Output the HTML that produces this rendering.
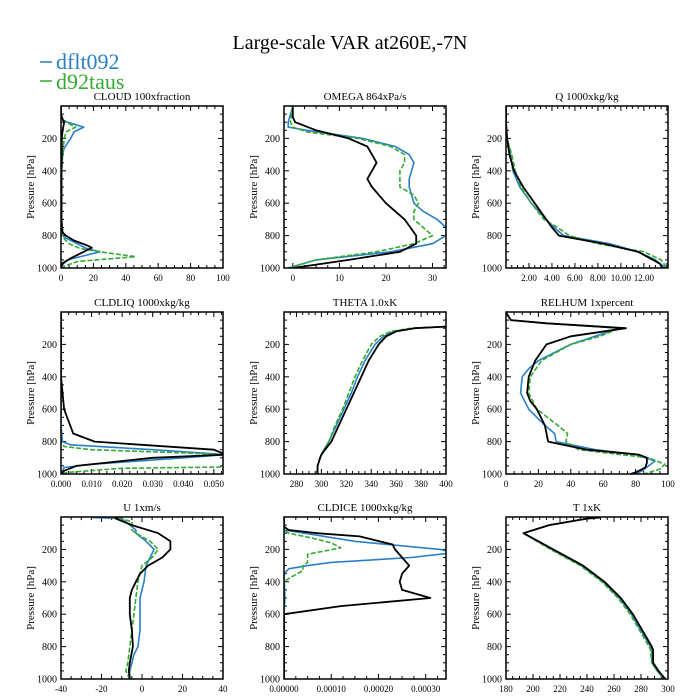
<!DOCTYPE html>
<html><head><meta charset="utf-8">
<style>
html,body{margin:0;padding:0;background:#fff;}
svg{display:block;font-family:"Liberation Serif",serif;}
</style></head>
<body>
<svg id="chart" width="700" height="700" viewBox="0 0 700 700">
<text x="350" y="49" text-anchor="middle" font-size="20">Large-scale VAR at260E,-7N</text>
<g>
<line x1="40" y1="62" x2="52" y2="62" stroke="#2a7fc8" stroke-width="1.5"/>
<text x="56" y="69" font-size="22" fill="#2a7fc8">dflt092</text>
<line x1="40" y1="81" x2="52" y2="81" stroke="#33aa33" stroke-width="1.5"/>
<text x="56" y="89" font-size="22" fill="#33aa33">d92taus</text>
</g>
</svg>
<script>
// ---- data arrays ----
const panelTitles = ["CLOUD  100xfraction","OMEGA  864xPa/s","Q  1000xkg/kg","CLDLIQ  1000xkg/kg","THETA  1.0xK","RELHUM  1xpercent","U  1xm/s","CLDICE  1000xkg/kg","T  1xK"];
const xMins = [0,-1.9,0,0,270,0,-40,0,180];
const xMaxs = [100,32.9,14.1,0.053,400,100,40,0.000343,300];
const xTicks = [[0,20,40,60,80,100],[0,10,20,30],[2,4,6,8,10,12],[0,0.01,0.02,0.03,0.04,0.05],[280,300,320,340,360,380,400],[0,20,40,60,80,100],[-40,-20,0,20,40],[0,0.0001,0.0002,0.0003],[180,200,220,240,260,280,300]];
const xTickLabels = [["0","20","40","60","80","100"],["0","10","20","30"],["2.00","4.00","6.00","8.00","10.00","12.00"],["0.000","0.010","0.020","0.030","0.040","0.050"],["280","300","320","340","360","380","400"],["0","20","40","60","80","100"],["-40","-20","0","20","40"],["0.00000","0.00010","0.00020","0.00030"],["180","200","220","240","260","280","300"]];
const yTicks = [200,400,600,800,1000];

// CLOUD
const cloudBlackP=[3,50,80,100,150,200,300,400,700,780,800,830,860,875,900,940,970,1000];
const cloudBlackX=[0,0,1,2,1,0.5,0.5,0.3,0.3,1,3,8,16,19,14,6,1,0];
const cloudBlueP=[3,80,100,130,160,200,260,300,400,780,810,840,880,900,950,980,1000];
const cloudBlueX=[0,0,4,14,8,6,2,1,0.3,0.3,2,8,16,24,4,1,0];
const cloudGreenP=[3,80,100,130,160,200,300,400,780,820,850,880,900,930,960,990,1000];
const cloudGreenX=[0,0,3,9,3,2,1,0.3,0.3,2,5,12,24,46,10,2,0];
// OMEGA
const omegaBlackP=[3,70,100,150,200,250,300,350,400,450,500,600,700,800,850,900,950,1000];
const omegaBlackX=[0,0,0.5,5,12,16,17,18,17,16,17,20,24,26.5,26.5,23,12,0];
const omegaBlueP=[3,100,130,150,200,250,300,350,400,450,500,600,650,700,750,800,850,900,950,1000];
const omegaBlueX=[0,-1,-1,3,15,22,25,26,25.5,25,25,26,28,31,32.9,32.9,30,21,5,-1];
const omegaGreenP=[3,100,130,160,200,250,300,350,400,450,500,550,600,650,700,750,800,850,900,950,1000];
const omegaGreenX=[0,-0.5,0,3,14,21,24,24,23,23,23,26,27,26,26,28,30,26,18,5,-1];
// Q
const qBlackP=[3,100,200,300,400,500,600,700,750,800,850,900,950,975,1000];
const qBlackX=[0,0,0.1,0.3,0.7,1.5,2.5,3.5,4,4.6,8.5,11.5,12.8,13.4,13.6];
const qBlueP=[3,100,200,300,400,500,600,700,750,800,850,900,950,1000];
const qBlueX=[0,0,0.1,0.4,0.6,1.2,2.2,3.5,4.2,5,9,11.5,13,13.9];
const qGreenP=[3,100,200,300,400,500,600,700,750,800,850,900,950,1000];
const qGreenX=[0,0,0.1,0.5,0.8,1.3,2.2,3.3,4.5,5.5,8,12,13.5,14];
// CLDLIQ
const liqBlackP=[3,400,600,650,700,750,800,850,880,900,950,980,1000];
const liqBlackX=[0,0,0.001,0.002,0.003,0.004,0.011,0.05,0.054,0.03,0.005,0.001,0];
const liqBlueP=[3,700,800,820,850,880,900,940,960,1000];
const liqBlueX=[0,0,0.0005,0.003,0.03,0.054,0.04,0.01,0.001,0];
const liqGreenP=[3,800,830,850,870,885,900,930,955,965,990,1000];
const liqGreenX=[0,0,0.001,0.01,0.04,0.06,0.06,0.06,0.06,0.02,0.002,0];
// THETA
const thBlackP=[90,100,120,150,200,300,400,500,600,700,800,850,880,900,950,1000];
const thBlackX=[400,375,360,352,346,338,332,326,320,314,308,303,300,299,297,297];
const thBlueP=[90,100,120,150,200,300,400,500,600,700,800,850,880,900,950,1000];
const thBlueX=[400,375,358,350,343,335,329,324,318,312,306,302,300,299,297,297];
const thGreenP=[90,100,120,150,200,300,400,500,600,700,800,850,880,900,950,1000];
const thGreenX=[400,372,356,347,340,333,327,322,317,311,306,302,300,299,297,296];
// RELHUM
const rhBlackP=[3,50,70,100,150,200,300,400,500,550,600,700,800,850,880,900,930,960,990,1000];
const rhBlackX=[0,3,25,74,40,25,18,14,13,15,19,24,26,50,82,87,87,86,80,77];
const rhBlueP=[3,50,70,100,150,200,250,300,350,400,500,600,700,750,800,850,880,920,950,980,1000];
const rhBlueX=[0,3,25,70,55,40,30,20,14,10,9,14,24,30,31,55,80,92,88,84,80];
const rhGreenP=[3,50,70,100,150,200,300,400,500,600,700,750,800,850,900,940,970,1000];
const rhGreenX=[0,3,25,70,58,40,22,15,14,19,32,38,37,45,88,98,95,85];
// U
const uBlackP=[3,10,50,100,150,200,250,300,350,400,450,500,600,700,800,900,950,1000];
const uBlackX=[-12,-13,-5,8,14,14,10,3,-1,-3,-5,-6,-6,-5,-4.5,-6,-6.5,-6];
const uBlueP=[3,10,80,100,150,200,250,300,400,500,600,700,800,850,900,950,1000];
const uBlueX=[-25,-10,-3,-3,2,6,4,2,1,-1,-1,-1,-2,-4,-5,-6,-6];
const uGreenP=[3,10,30,80,100,150,200,250,300,400,500,600,700,800,900,950,1000];
const uGreenX=[-15,-10,-5,-5,-3,4,8,5,0,-2,-3,-4,-5,-6,-7,-8,-6];
// CLDICE
const iceBlackP=[3,60,80,100,120,170,200,250,300,350,400,450,500,550,600,1000];
const iceBlackX=[0,0,0.00001,0.00007,0.00016,0.00023,0.000235,0.00025,0.000265,0.00025,0.000245,0.00025,0.00031,0.00012,0,0];
const iceBlueP=[3,80,150,200,220,250,280,300,320,350,500,600,1000];
const iceBlueX=[0,0,0.00015,0.00033,0.00036,0.00027,0.0001,0.00005,0.00001,0,0.000002,0,0];
const iceGreenP=[3,80,100,130,160,190,230,280,300,330,380,400,600,1000];
const iceGreenX=[0,0,0.00001,0.00006,0.0001,0.00012,0.00005,0.00005,0.00004,0.00004,0.00001,0,0,0];
// T
const tBlackP=[3,10,50,100,200,300,400,500,600,700,800,820,900,950,1000];
const tBlackX=[250,240,212,193,215,237,253,265,274,281,288,289,289,293,298];
const tBlueP=[3,10,50,100,200,300,400,500,600,700,800,820,900,950,1000];
const tBlueX=[250,240,212,193,214,236,252,264,273,280,287,288,288,292,297];
const tGreenP=[3,10,50,100,200,300,400,500,600,700,800,820,900,950,1000];
const tGreenX=[250,240,212,193,213,235,251,263,272,279,286,287,288,292,297];

const seriesP=[[cloudBlueP,cloudGreenP,cloudBlackP],[omegaBlueP,omegaGreenP,omegaBlackP],[qBlueP,qGreenP,qBlackP],[liqBlueP,liqGreenP,liqBlackP],[thBlueP,thGreenP,thBlackP],[rhBlueP,rhGreenP,rhBlackP],[uBlueP,uGreenP,uBlackP],[iceBlueP,iceGreenP,iceBlackP],[tBlueP,tGreenP,tBlackP]];
const seriesX=[[cloudBlueX,cloudGreenX,cloudBlackX],[omegaBlueX,omegaGreenX,omegaBlackX],[qBlueX,qGreenX,qBlackX],[liqBlueX,liqGreenX,liqBlackX],[thBlueX,thGreenX,thBlackX],[rhBlueX,rhGreenX,rhBlackX],[uBlueX,uGreenX,uBlackX],[iceBlueX,iceGreenX,iceBlackX],[tBlueX,tGreenX,tBlackX]];
const seriesNames=["dflt092","d92taus","control"];

// ---- drawing ----
const NS="http://www.w3.org/2000/svg";
const svg=document.getElementById('chart');
const colX=[61,284,506], rowY=[106,312,517], W=162, H=162;
const colors=["#2a7fc8","#33aa33","#000000"];
function mk(tag,attrs,parent){const e=document.createElementNS(NS,tag);for(const k in attrs)e.setAttribute(k,attrs[k]);parent.appendChild(e);return e;}
for(let i=0;i<9;i++){
  const L=colX[i%3], T=rowY[Math.floor(i/3)];
  const xs=v=>L+(v-xMins[i])/(xMaxs[i]-xMins[i])*W;
  const ys=p=>T+p/1000*H;
  const g=mk('g',{},svg);
  
  
  const cid='clip'+i;
  const cp=mk('clipPath',{id:cid},g); mk('rect',{x:L,y:T,width:W,height:H},cp);
  const tt=mk('text',{x:L+W/2,y:T-6,'text-anchor':'middle','font-size':'11'},g);
  tt.textContent=panelTitles[i];
  
  
  for(let p=50;p<=1000;p+=50){
    const y=ys(p), len=(p%200===0)?5:3;
    mk('line',{x1:L,y1:y,x2:L+len,y2:y,stroke:'#000','stroke-width':1},g);
    mk('line',{x1:L+W,y1:y,x2:L+W-len,y2:y,stroke:'#000','stroke-width':1},g);
  }
  yTicks.forEach(p=>{
    const t=mk('text',{x:L-4,y:ys(p)+3.5,'text-anchor':'end','font-size':'10'},g);
    t.textContent=p;
    
    
  });
  const yt=mk('text',{x:0,y:0,'text-anchor':'middle','font-size':'11',transform:`translate(${L-27},${T+H/2}) rotate(-90)`},g);
  yt.textContent='Pressure [hPa]';
  
  
  const tk=xTicks[i], step=tk.length>1?(tk[1]-tk[0])/4:0;
  if(step>0){
    for(let v=tk[0]-step*8;v<=xMaxs[i]+1e-12;v+=step){
      if(v<xMins[i]-1e-12)continue;
      const r=((v-tk[0])/step)%4;
      const major=Math.abs(r)<1e-6||Math.abs(Math.abs(r)-4)<1e-6;
      const x=xs(v), len=major?5:3;
      mk('line',{x1:x,y1:T+H,x2:x,y2:T+H-len,stroke:'#000','stroke-width':1},g);
      mk('line',{x1:x,y1:T,x2:x,y2:T+len,stroke:'#000','stroke-width':1},g);
    }
  }
  tk.forEach((v,j)=>{
    const t=mk('text',{x:xs(v),y:T+H+13,'text-anchor':'middle','font-size':'9'},g);
    t.textContent=xTickLabels[i][j];
    
    
  });
  for(let s=0;s<3;s++){
    const P=seriesP[i][s], X=seriesX[i][s];
    const d=P.map((p,k)=>(k?'L':'M')+xs(X[k]).toFixed(1)+','+ys(p).toFixed(1)).join('');
    const attrs={d:d,fill:'none',stroke:colors[s],'stroke-width':s===2?1.8:1.6,'clip-path':`url(#${cid})`,'stroke-linejoin':'round'};
    if(s===1)attrs['stroke-dasharray']='5,2';
    const path=mk('path',attrs,g);
    
    
  }
  const fr=mk('rect',{x:L,y:T,width:W,height:H,fill:'none',stroke:'#000','stroke-width':1.5},g);
  
  
}
</script>
</body></html>
